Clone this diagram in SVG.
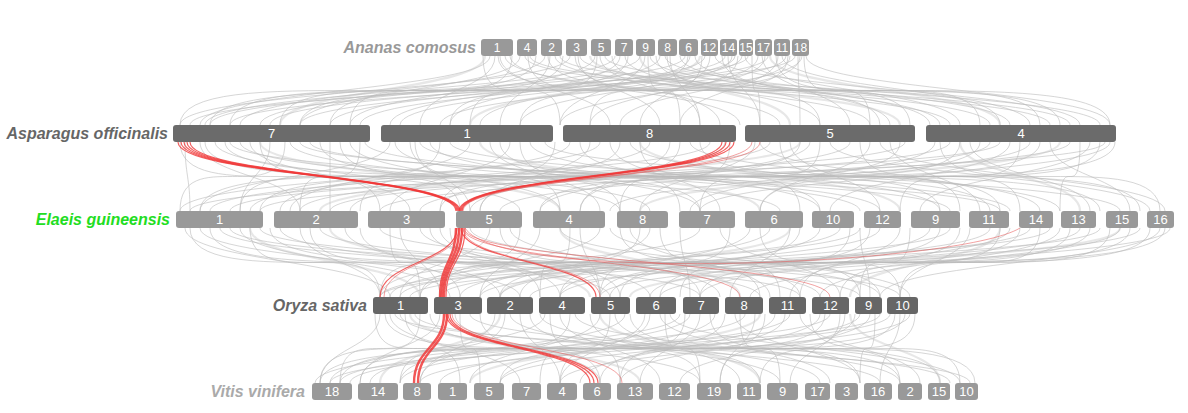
<svg xmlns="http://www.w3.org/2000/svg" width="1188" height="413" viewBox="0 0 1188 413">
<style>
.g{fill:none;stroke:#bbb;stroke-width:1;stroke-opacity:.6}
.g2{fill:none;stroke:#c4c4c4;stroke-width:2.2;stroke-opacity:.4}
.r{fill:none;stroke:#f03a3a;stroke-width:1.2;stroke-opacity:.8}
.rt{fill:none;stroke:#f03a3a;stroke-width:2.4;stroke-opacity:.85}
.rf{fill:none;stroke:#e85555;stroke-width:1;stroke-opacity:.55}
.lab{font-family:"Liberation Sans",Arial,sans-serif;font-size:16px;font-weight:bold;font-style:italic;text-anchor:end}
.n{font-family:"Liberation Sans",Arial,sans-serif;font-size:13px;fill:#fff;text-anchor:middle}
.ns{font-family:"Liberation Sans",Arial,sans-serif;font-size:12px;fill:#fff;text-anchor:middle}
.ba{fill:#999}
.bd{fill:#6b6b6b}
.bo{fill:#666}
</style>
<rect width="1188" height="413" fill="#fff"/>
<g id="connectors">
<g id="grey-links">
<path class="g" d="M490 56C490 90 200 90 200 125"/><path class="g" d="M495 56C495 90 420 90 420 125"/><path class="g" d="M500 56C500 90 610 90 610 125"/><path class="g" d="M505 56C505 90 780 90 780 125"/><path class="g" d="M520 56C520 90 300 90 300 125"/><path class="g" d="M525 56C525 90 950 90 950 125"/><path class="g" d="M530 56C530 90 1050 90 1050 125"/><path class="g" d="M545 56C545 90 240 90 240 125"/><path class="g" d="M550 56C550 90 500 90 500 125"/><path class="g" d="M555 56C555 90 870 90 870 125"/><path class="g" d="M570 56C570 90 180 90 180 125"/><path class="g" d="M575 56C575 90 660 90 660 125"/><path class="g" d="M580 56C580 90 990 90 990 125"/><path class="g" d="M595 56C595 90 350 90 350 125"/><path class="g" d="M600 56C600 90 720 90 720 125"/><path class="g" d="M605 56C605 90 1100 90 1100 125"/><path class="g" d="M620 56C620 90 450 90 450 125"/><path class="g" d="M625 56C625 90 820 90 820 125"/><path class="g" d="M640 56C640 90 260 90 260 125"/><path class="g" d="M645 56C645 90 560 90 560 125"/><path class="g" d="M650 56C650 90 940 90 940 125"/><path class="g" d="M660 56C660 90 390 90 390 125"/><path class="g" d="M665 56C665 90 1010 90 1010 125"/><path class="g" d="M670 56C670 90 700 90 700 125"/><path class="g" d="M685 56C685 90 210 90 210 125"/><path class="g" d="M690 56C690 90 480 90 480 125"/><path class="g" d="M695 56C695 90 890 90 890 125"/><path class="g" d="M705 56C705 90 330 90 330 125"/><path class="g" d="M710 56C710 90 640 90 640 125"/><path class="g" d="M715 56C715 90 1080 90 1080 125"/><path class="g" d="M725 56C725 90 270 90 270 125"/><path class="g" d="M728 56C728 90 760 90 760 125"/><path class="g" d="M732 56C732 90 520 90 520 125"/><path class="g" d="M742 56C742 90 400 90 400 125"/><path class="g" d="M745 56C745 90 960 90 960 125"/><path class="g" d="M748 56C748 90 190 90 190 125"/><path class="g" d="M758 56C758 90 590 90 590 125"/><path class="g" d="M762 56C762 90 850 90 850 125"/><path class="g" d="M768 56C768 90 300 90 300 125"/><path class="g" d="M778 56C778 90 680 90 680 125"/><path class="g" d="M782 56C782 90 1030 90 1030 125"/><path class="g" d="M786 56C786 90 440 90 440 125"/><path class="g" d="M795 56C795 90 230 90 230 125"/><path class="g" d="M798 56C798 90 800 90 800 125"/><path class="g" d="M802 56C802 90 560 90 560 125"/><path class="g" d="M806 56C806 90 1110 90 1110 125"/><path class="g" d="M510 56C510 90 740 90 740 125"/><path class="g" d="M560 56C560 90 1070 90 1070 125"/><path class="g" d="M615 56C615 90 205 90 205 125"/><path class="g" d="M680 56C680 90 930 90 930 125"/><path class="g" d="M735 56C735 90 360 90 360 125"/><path class="g" d="M790 56C790 90 620 90 620 125"/>
<path class="g" d="M483 56C483 125 560 56 560 125"/><path class="g" d="M498 56C498 125 880 56 880 125"/><path class="g" d="M512 56C512 125 350 56 350 125"/><path class="g" d="M528 56C528 125 700 56 700 125"/><path class="g" d="M548 56C548 125 1000 56 1000 125"/><path class="g" d="M563 56C563 125 280 56 280 125"/><path class="g" d="M578 56C578 125 820 56 820 125"/><path class="g" d="M597 56C597 125 470 56 470 125"/><path class="g" d="M612 56C612 125 1060 56 1060 125"/><path class="g" d="M628 56C628 125 230 56 230 125"/><path class="g" d="M648 56C648 125 680 56 680 125"/><path class="g" d="M667 56C667 125 910 56 910 125"/><path class="g" d="M688 56C688 125 330 56 330 125"/><path class="g" d="M702 56C702 125 590 56 590 125"/><path class="g" d="M722 56C722 125 1040 56 1040 125"/><path class="g" d="M738 56C738 125 450 56 450 125"/><path class="g" d="M752 56C752 125 760 56 760 125"/><path class="g" d="M765 56C765 125 210 56 210 125"/><path class="g" d="M776 56C776 125 980 56 980 125"/><path class="g" d="M788 56C788 125 520 56 520 125"/><path class="g" d="M800 56C800 125 300 56 300 125"/><path class="g" d="M804 56C804 125 870 56 870 125"/><path class="g" d="M536 56C536 125 180 56 180 125"/><path class="g" d="M656 56C656 125 1110 56 1110 125"/>
<path class="g2" d="M485 56C485 90 280 90 280 125"/><path class="g2" d="M590 56C590 90 900 90 900 125"/><path class="g2" d="M700 56C700 90 470 90 470 125"/><path class="g2" d="M770 56C770 90 1000 90 1000 125"/><path class="g2" d="M640 56C640 90 790 90 790 125"/>
<path class="g" d="M185 142C185 176 190 176 190 211"/><path class="g" d="M200 142C200 176 300 176 300 211"/><path class="g" d="M215 142C215 176 520 176 520 211"/><path class="g" d="M230 142C230 176 780 176 780 211"/><path class="g" d="M250 142C250 176 410 176 410 211"/><path class="g" d="M270 142C270 176 240 176 240 211"/><path class="g" d="M290 142C290 176 650 176 650 211"/><path class="g" d="M310 142C310 176 950 176 950 211"/><path class="g" d="M330 142C330 176 330 176 330 211"/><path class="g" d="M350 142C350 176 560 176 560 211"/><path class="g" d="M365 142C365 176 860 176 860 211"/><path class="g" d="M390 142C390 176 200 176 200 211"/><path class="g" d="M410 142C410 176 470 176 470 211"/><path class="g" d="M430 142C430 176 700 176 700 211"/><path class="g" d="M450 142C450 176 1010 176 1010 211"/><path class="g" d="M470 142C470 176 290 176 290 211"/><path class="g" d="M490 142C490 176 600 176 600 211"/><path class="g" d="M510 142C510 176 390 176 390 211"/><path class="g" d="M530 142C530 176 820 176 820 211"/><path class="g" d="M545 142C545 176 1120 176 1120 211"/><path class="g" d="M570 142C570 176 250 176 250 211"/><path class="g" d="M590 142C590 176 480 176 480 211"/><path class="g" d="M610 142C610 176 720 176 720 211"/><path class="g" d="M630 142C630 176 940 176 940 211"/><path class="g" d="M650 142C650 176 350 176 350 211"/><path class="g" d="M670 142C670 176 580 176 580 211"/><path class="g" d="M690 142C690 176 1060 176 1060 211"/><path class="g" d="M710 142C710 176 210 176 210 211"/><path class="g" d="M725 142C725 176 470 176 470 211"/><path class="g" d="M755 142C755 176 640 176 640 211"/><path class="g" d="M770 142C770 176 300 176 300 211"/><path class="g" d="M790 142C790 176 880 176 880 211"/><path class="g" d="M810 142C810 176 540 176 540 211"/><path class="g" d="M830 142C830 176 1150 176 1150 211"/><path class="g" d="M850 142C850 176 420 176 420 211"/><path class="g" d="M870 142C870 176 760 176 760 211"/><path class="g" d="M890 142C890 176 980 176 980 211"/><path class="g" d="M905 142C905 176 230 176 230 211"/><path class="g" d="M935 142C935 176 690 176 690 211"/><path class="g" d="M950 142C950 176 330 176 330 211"/><path class="g" d="M970 142C970 176 1090 176 1090 211"/><path class="g" d="M990 142C990 176 500 176 500 211"/><path class="g" d="M1010 142C1010 176 830 176 830 211"/><path class="g" d="M1030 142C1030 176 610 176 610 211"/><path class="g" d="M1050 142C1050 176 1130 176 1130 211"/><path class="g" d="M1070 142C1070 176 380 176 380 211"/><path class="g" d="M1090 142C1090 176 920 176 920 211"/><path class="g" d="M1105 142C1105 176 260 176 260 211"/><path class="g" d="M1110 142C1110 176 700 176 700 211"/><path class="g" d="M300 142C300 176 1000 176 1000 211"/><path class="g" d="M600 142C600 176 180 176 180 211"/><path class="g" d="M880 142C880 176 1165 176 1165 211"/><path class="g" d="M1000 142C1000 176 190 176 190 211"/><path class="g" d="M420 142C420 176 880 176 880 211"/><path class="g" d="M760 142C760 176 1040 176 1040 211"/><path class="g" d="M240 142C240 176 620 176 620 211"/>
<path class="g" d="M180 142C180 211 380 142 380 211"/><path class="g" d="M205 142C205 211 700 142 700 211"/><path class="g" d="M225 142C225 211 990 142 990 211"/><path class="g" d="M260 142C260 211 460 142 460 211"/><path class="g" d="M285 142C285 211 180 142 180 211"/><path class="g" d="M320 142C320 211 820 142 820 211"/><path class="g" d="M340 142C340 211 620 142 620 211"/><path class="g" d="M360 142C360 211 300 142 300 211"/><path class="g" d="M395 142C395 211 1100 142 1100 211"/><path class="g" d="M415 142C415 211 560 142 560 211"/><path class="g" d="M440 142C440 211 240 142 240 211"/><path class="g" d="M500 142C500 211 940 142 940 211"/><path class="g" d="M520 142C520 211 680 142 680 211"/><path class="g" d="M555 142C555 211 360 142 360 211"/><path class="g" d="M580 142C580 211 1000 142 1000 211"/><path class="g" d="M620 142C620 211 200 142 200 211"/><path class="g" d="M640 142C640 211 800 142 800 211"/><path class="g" d="M680 142C680 211 440 142 440 211"/><path class="g" d="M700 142C700 211 1140 142 1140 211"/><path class="g" d="M730 142C730 211 620 142 620 211"/><path class="g" d="M780 142C780 211 960 142 960 211"/><path class="g" d="M800 142C800 211 260 142 260 211"/><path class="g" d="M820 142C820 211 700 142 700 211"/><path class="g" d="M860 142C860 211 1020 142 1020 211"/><path class="g" d="M900 142C900 211 480 142 480 211"/><path class="g" d="M940 142C940 211 1160 142 1160 211"/><path class="g" d="M960 142C960 211 580 142 580 211"/><path class="g" d="M980 142C980 211 280 142 280 211"/><path class="g" d="M1020 142C1020 211 900 142 900 211"/><path class="g" d="M1040 142C1040 211 440 142 440 211"/><path class="g" d="M1080 142C1080 211 1060 142 1060 211"/><path class="g" d="M1100 142C1100 211 760 142 760 211"/><path class="g" d="M1115 142C1115 211 540 142 540 211"/>
<path class="g2" d="M260 142C260 176 560 176 560 211"/><path class="g2" d="M480 142C480 176 760 176 760 211"/><path class="g2" d="M800 142C800 176 320 176 320 211"/><path class="g2" d="M960 142C960 176 1080 176 1080 211"/><path class="g2" d="M640 142C640 176 900 176 900 211"/><path class="g2" d="M1060 142C1060 176 640 176 640 211"/>
<path class="g" d="M185 228C185 262 390 262 390 297"/><path class="g" d="M200 228C200 262 520 262 520 297"/><path class="g" d="M220 228C220 262 700 262 700 297"/><path class="g" d="M240 228C240 262 450 262 450 297"/><path class="g" d="M260 228C260 262 860 262 860 297"/><path class="g" d="M280 228C280 262 610 262 610 297"/><path class="g" d="M300 228C300 262 380 262 380 297"/><path class="g" d="M320 228C320 262 760 262 760 297"/><path class="g" d="M345 228C345 262 500 262 500 297"/><path class="g" d="M380 228C380 262 900 262 900 297"/><path class="g" d="M400 228C400 262 440 262 440 297"/><path class="g" d="M420 228C420 262 650 262 650 297"/><path class="g" d="M440 228C440 262 560 262 560 297"/><path class="g" d="M470 228C470 262 820 262 820 297"/><path class="g" d="M490 228C490 262 400 262 400 297"/><path class="g" d="M510 228C510 262 720 262 720 297"/><path class="g" d="M540 228C540 262 480 262 480 297"/><path class="g" d="M560 228C560 262 880 262 880 297"/><path class="g" d="M580 228C580 262 600 262 600 297"/><path class="g" d="M600 228C600 262 420 262 420 297"/><path class="g" d="M630 228C630 262 770 262 770 297"/><path class="g" d="M650 228C650 262 520 262 520 297"/><path class="g" d="M680 228C680 262 690 262 690 297"/><path class="g" d="M700 228C700 262 390 262 390 297"/><path class="g" d="M720 228C720 262 840 262 840 297"/><path class="g" d="M750 228C750 262 560 262 560 297"/><path class="g" d="M770 228C770 262 460 262 460 297"/><path class="g" d="M790 228C790 262 730 262 730 297"/><path class="g" d="M820 228C820 262 610 262 610 297"/><path class="g" d="M840 228C840 262 400 262 400 297"/><path class="g" d="M860 228C860 262 870 262 870 297"/><path class="g" d="M880 228C880 262 500 262 500 297"/><path class="g" d="M900 228C900 262 790 262 790 297"/><path class="g" d="M930 228C930 262 650 262 650 297"/><path class="g" d="M950 228C950 262 440 262 440 297"/><path class="g" d="M970 228C970 262 900 262 900 297"/><path class="g" d="M990 228C990 262 560 262 560 297"/><path class="g" d="M1010 228C1010 262 700 262 700 297"/><path class="g" d="M1030 228C1030 262 480 262 480 297"/><path class="g" d="M1060 228C1060 262 820 262 820 297"/><path class="g" d="M1080 228C1080 262 600 262 600 297"/><path class="g" d="M1100 228C1100 262 410 262 410 297"/><path class="g" d="M1120 228C1120 262 750 262 750 297"/><path class="g" d="M1140 228C1140 262 530 262 530 297"/><path class="g" d="M1160 228C1160 262 880 262 880 297"/><path class="g" d="M1170 228C1170 262 660 262 660 297"/><path class="g" d="M230 228C230 262 800 262 800 297"/><path class="g" d="M610 228C610 262 910 262 910 297"/><path class="g" d="M860 228C860 262 380 262 380 297"/><path class="g" d="M1050 228C1050 262 380 262 380 297"/>
<path class="g" d="M190 228C190 297 460 228 460 297"/><path class="g" d="M210 228C210 297 620 228 620 297"/><path class="g" d="M250 228C250 297 380 228 380 297"/><path class="g" d="M270 228C270 297 800 228 800 297"/><path class="g" d="M310 228C310 297 540 228 540 297"/><path class="g" d="M360 228C360 297 700 228 700 297"/><path class="g" d="M390 228C390 297 420 228 420 297"/><path class="g" d="M430 228C430 297 880 228 880 297"/><path class="g" d="M450 228C450 297 600 228 600 297"/><path class="g" d="M500 228C500 297 760 228 760 297"/><path class="g" d="M520 228C520 297 380 228 380 297"/><path class="g" d="M570 228C570 297 540 228 540 297"/><path class="g" d="M620 228C620 297 860 228 860 297"/><path class="g" d="M640 228C640 297 440 228 440 297"/><path class="g" d="M660 228C660 297 780 228 780 297"/><path class="g" d="M730 228C730 297 600 228 600 297"/><path class="g" d="M760 228C760 297 900 228 900 297"/><path class="g" d="M800 228C800 297 420 228 420 297"/><path class="g" d="M850 228C850 297 680 228 680 297"/><path class="g" d="M870 228C870 297 560 228 560 297"/><path class="g" d="M910 228C910 297 860 228 860 297"/><path class="g" d="M940 228C940 297 380 228 380 297"/><path class="g" d="M960 228C960 297 620 228 620 297"/><path class="g" d="M1000 228C1000 297 800 228 800 297"/><path class="g" d="M1020 228C1020 297 500 228 500 297"/><path class="g" d="M1040 228C1040 297 900 228 900 297"/><path class="g" d="M1070 228C1070 297 660 228 660 297"/><path class="g" d="M1090 228C1090 297 440 228 440 297"/><path class="g" d="M1110 228C1110 297 840 228 840 297"/><path class="g" d="M1130 228C1130 297 600 228 600 297"/><path class="g" d="M1150 228C1150 297 700 228 700 297"/><path class="g" d="M1165 228C1165 297 480 228 480 297"/>
<path class="g2" d="M330 228C330 262 590 262 590 297"/><path class="g2" d="M560 228C560 262 740 262 740 297"/><path class="g2" d="M790 228C790 262 500 262 500 297"/><path class="g2" d="M1000 228C1000 262 850 262 850 297"/><path class="g2" d="M250 228C250 262 420 262 420 297"/><path class="g2" d="M1120 228C1120 262 630 262 630 297"/>
<path class="g" d="M380 314C380 348 320 348 320 383"/><path class="g" d="M390 314C390 348 520 348 520 383"/><path class="g" d="M400 314C400 348 700 348 700 383"/><path class="g" d="M415 314C415 348 880 348 880 383"/><path class="g" d="M440 314C440 348 360 348 360 383"/><path class="g" d="M455 314C455 348 600 348 600 383"/><path class="g" d="M470 314C470 348 950 348 950 383"/><path class="g" d="M495 314C495 348 420 348 420 383"/><path class="g" d="M510 314C510 348 780 348 780 383"/><path class="g" d="M520 314C520 348 560 348 560 383"/><path class="g" d="M545 314C545 348 330 348 330 383"/><path class="g" d="M560 314C560 348 660 348 660 383"/><path class="g" d="M575 314C575 348 900 348 900 383"/><path class="g" d="M600 314C600 348 470 348 470 383"/><path class="g" d="M615 314C615 348 740 348 740 383"/><path class="g" d="M625 314C625 348 370 348 370 383"/><path class="g" d="M645 314C645 348 560 348 560 383"/><path class="g" d="M660 314C660 348 830 348 830 383"/><path class="g" d="M670 314C670 348 960 348 960 383"/><path class="g" d="M690 314C690 348 400 348 400 383"/><path class="g" d="M700 314C700 348 640 348 640 383"/><path class="g" d="M715 314C715 348 500 348 500 383"/><path class="g" d="M735 314C735 348 860 348 860 383"/><path class="g" d="M745 314C745 348 340 348 340 383"/><path class="g" d="M755 314C755 348 720 348 720 383"/><path class="g" d="M775 314C775 348 580 348 580 383"/><path class="g" d="M790 314C790 348 440 348 440 383"/><path class="g" d="M800 314C800 348 920 348 920 383"/><path class="g" d="M820 314C820 348 620 348 620 383"/><path class="g" d="M830 314C830 348 350 348 350 383"/><path class="g" d="M845 314C845 348 790 348 790 383"/><path class="g" d="M860 314C860 348 500 348 500 383"/><path class="g" d="M870 314C870 348 680 348 680 383"/><path class="g" d="M890 314C890 348 420 348 420 383"/><path class="g" d="M900 314C900 348 880 348 880 383"/><path class="g" d="M910 314C910 348 560 348 560 383"/><path class="g" d="M395 314C395 348 970 348 970 383"/><path class="g" d="M540 314C540 348 820 348 820 383"/><path class="g" d="M680 314C680 348 315 348 315 383"/><path class="g" d="M880 314C880 348 330 348 330 383"/>
<path class="g" d="M375 314C375 383 460 314 460 383"/><path class="g" d="M385 314C385 383 760 314 760 383"/><path class="g" d="M405 314C405 383 600 314 600 383"/><path class="g" d="M420 314C420 383 340 314 340 383"/><path class="g" d="M430 314C430 383 900 314 900 383"/><path class="g" d="M460 314C460 383 480 314 480 383"/><path class="g" d="M480 314C480 383 700 314 700 383"/><path class="g" d="M505 314C505 383 320 314 320 383"/><path class="g" d="M530 314C530 383 940 314 940 383"/><path class="g" d="M550 314C550 383 620 314 620 383"/><path class="g" d="M570 314C570 383 400 314 400 383"/><path class="g" d="M590 314C590 383 860 314 860 383"/><path class="g" d="M610 314C610 383 540 314 540 383"/><path class="g" d="M630 314C630 383 975 314 975 383"/><path class="g" d="M650 314C650 383 360 314 360 383"/><path class="g" d="M665 314C665 383 700 314 700 383"/><path class="g" d="M685 314C685 383 560 314 560 383"/><path class="g" d="M710 314C710 383 900 314 900 383"/><path class="g" d="M725 314C725 383 420 314 420 383"/><path class="g" d="M740 314C740 383 780 314 780 383"/><path class="g" d="M765 314C765 383 620 314 620 383"/><path class="g" d="M785 314C785 383 340 314 340 383"/><path class="g" d="M810 314C810 383 960 314 960 383"/><path class="g" d="M825 314C825 383 500 314 500 383"/><path class="g" d="M840 314C840 383 720 314 720 383"/><path class="g" d="M855 314C855 383 400 314 400 383"/><path class="g" d="M875 314C875 383 860 314 860 383"/><path class="g" d="M895 314C895 383 600 314 600 383"/><path class="g" d="M905 314C905 383 320 314 320 383"/><path class="g" d="M915 314C915 383 760 314 760 383"/>
<path class="g2" d="M410 314C410 348 640 348 640 383"/><path class="g2" d="M600 314C600 348 760 348 760 383"/><path class="g2" d="M760 314C760 348 470 348 470 383"/><path class="g2" d="M850 314C850 348 940 348 940 383"/><path class="g2" d="M500 314C500 348 380 348 380 383"/>
</g>
<g id="red-links">
<path class="r" d="M178 142C178 176 456 176 456 211"/><path class="r" d="M181 142C181 176 457 176 457 211"/><path class="r" d="M184 142C184 176 458 176 458 211"/><path class="r" d="M187 142C187 176 459 176 459 211"/><path class="r" d="M190 142C190 176 460 176 460 211"/>
<path class="r" d="M722 142C722 176 459 176 459 211"/><path class="r" d="M726 142C726 176 460 176 460 211"/><path class="r" d="M730 142C730 176 461 176 461 211"/><path class="r" d="M734 142C734 176 462 176 462 211"/>
<path class="rf" d="M752 142C752 176 462 176 462 211"/><path class="rf" d="M760 142C760 176 463 176 463 211"/>
<path class="r" d="M457 228C457 262 380 262 380 297"/><path class="rf" d="M459 228C459 262 384 262 384 297"/>
<path class="rt" d="M456 228C456 262 440 262 440 297"/><path class="rt" d="M459 228C459 262 442 262 442 297"/><path class="rt" d="M462 228C462 262 444 262 444 297"/><path class="r" d="M465 228C465 262 446 262 446 297"/>
<path class="r" d="M461 228C461 262 596 262 596 297"/><path class="rf" d="M463 228C463 262 600 262 600 297"/>
<path class="rf" d="M463 228C463 262 740 262 740 297"/><path class="rf" d="M464 228C464 262 830 262 830 297"/>
<path class="rf" d="M465 228C500 285 960 265 1020 228"/>
<path class="rt" d="M444 314C444 348 414 348 414 383"/><path class="rt" d="M447 314C447 348 418 348 418 383"/>
<path class="r" d="M446 314C446 348 590 348 590 383"/><path class="r" d="M448 314C448 348 594 348 594 383"/><path class="r" d="M450 314C450 348 598 348 598 383"/>
<path class="rf" d="M452 314C452 348 622 348 622 383"/>
</g>
</g>
<g id="ananas">
<text class="lab" x="476" y="53" fill="#999">Ananas comosus</text>
<g id="ac1"><rect class="ba" x="481" y="39" width="32" height="17" rx="3"/><text class="ns" x="497" y="52">1</text></g>
<g id="ac4"><rect class="ba" x="517" y="39" width="20" height="17" rx="3"/><text class="ns" x="527" y="52">4</text></g>
<g id="ac2"><rect class="ba" x="541" y="39" width="21" height="17" rx="3"/><text class="ns" x="551.5" y="52">2</text></g>
<g id="ac3"><rect class="ba" x="566" y="39" width="21" height="17" rx="3"/><text class="ns" x="576.5" y="52">3</text></g>
<g id="ac5"><rect class="ba" x="591" y="39" width="20" height="17" rx="3"/><text class="ns" x="601" y="52">5</text></g>
<g id="ac7"><rect class="ba" x="615" y="39" width="18" height="17" rx="3"/><text class="ns" x="624" y="52">7</text></g>
<g id="ac9"><rect class="ba" x="636" y="39" width="19" height="17" rx="3"/><text class="ns" x="645.5" y="52">9</text></g>
<g id="ac8"><rect class="ba" x="658" y="39" width="19" height="17" rx="3"/><text class="ns" x="667.5" y="52">8</text></g>
<g id="ac6"><rect class="ba" x="679" y="39" width="19" height="17" rx="3"/><text class="ns" x="688.5" y="52">6</text></g>
<g id="ac12"><rect class="ba" x="701" y="39" width="17" height="17" rx="3"/><text class="ns" x="709.5" y="52">12</text></g>
<g id="ac14"><rect class="ba" x="720" y="39" width="17" height="17" rx="3"/><text class="ns" x="728.5" y="52">14</text></g>
<g id="ac15"><rect class="ba" x="739" y="39" width="14" height="17" rx="3"/><text class="ns" x="746" y="52">15</text></g>
<g id="ac17"><rect class="ba" x="755" y="39" width="17" height="17" rx="3"/><text class="ns" x="763.5" y="52">17</text></g>
<g id="ac11"><rect class="ba" x="774" y="39" width="16" height="17" rx="3"/><text class="ns" x="782" y="52">11</text></g>
<g id="ac18"><rect class="ba" x="792" y="39" width="17" height="17" rx="3"/><text class="ns" x="800.5" y="52">18</text></g>
</g>
<g id="asparagus">
<text class="lab" x="168" y="139" fill="#666">Asparagus officinalis</text>
<g id="ao7"><rect class="bd" x="173" y="125" width="197" height="17" rx="3"/><text class="n" x="271.5" y="138">7</text></g>
<g id="ao1"><rect class="bd" x="381" y="125" width="172" height="17" rx="3"/><text class="n" x="467" y="138">1</text></g>
<g id="ao8"><rect class="bd" x="563" y="125" width="173" height="17" rx="3"/><text class="n" x="649.5" y="138">8</text></g>
<g id="ao5"><rect class="bd" x="745" y="125" width="170" height="17" rx="3"/><text class="n" x="830" y="138">5</text></g>
<g id="ao4"><rect class="bd" x="926" y="125" width="190" height="17" rx="3"/><text class="n" x="1021" y="138">4</text></g>
</g>
<g id="elaeis">
<text class="lab" x="170" y="225" fill="#22dd22">Elaeis guineensis</text>
<g id="eg1"><rect class="ba" x="176" y="211" width="87" height="17" rx="3"/><text class="n" x="219.5" y="224">1</text></g>
<g id="eg2"><rect class="ba" x="274" y="211" width="84" height="17" rx="3"/><text class="n" x="316" y="224">2</text></g>
<g id="eg3"><rect class="ba" x="368" y="211" width="77" height="17" rx="3"/><text class="n" x="406.5" y="224">3</text></g>
<g id="eg5"><rect class="ba" x="456" y="211" width="66" height="17" rx="3"/><text class="n" x="489" y="224">5</text></g>
<g id="eg4"><rect class="ba" x="533" y="211" width="72" height="17" rx="3"/><text class="n" x="569" y="224">4</text></g>
<g id="eg8"><rect class="ba" x="617" y="211" width="51" height="17" rx="3"/><text class="n" x="642.5" y="224">8</text></g>
<g id="eg7"><rect class="ba" x="679" y="211" width="56" height="17" rx="3"/><text class="n" x="707" y="224">7</text></g>
<g id="eg6"><rect class="ba" x="745" y="211" width="58" height="17" rx="3"/><text class="n" x="774" y="224">6</text></g>
<g id="eg10"><rect class="ba" x="812" y="211" width="42" height="17" rx="3"/><text class="n" x="833" y="224">10</text></g>
<g id="eg12"><rect class="ba" x="864" y="211" width="37" height="17" rx="3"/><text class="n" x="882.5" y="224">12</text></g>
<g id="eg9"><rect class="ba" x="911" y="211" width="49" height="17" rx="3"/><text class="n" x="935.5" y="224">9</text></g>
<g id="eg11"><rect class="ba" x="969" y="211" width="40" height="17" rx="3"/><text class="n" x="989" y="224">11</text></g>
<g id="eg14"><rect class="ba" x="1019" y="211" width="34" height="17" rx="3"/><text class="n" x="1036" y="224">14</text></g>
<g id="eg13"><rect class="ba" x="1061" y="211" width="35" height="17" rx="3"/><text class="n" x="1078.5" y="224">13</text></g>
<g id="eg15"><rect class="ba" x="1106" y="211" width="32" height="17" rx="3"/><text class="n" x="1122" y="224">15</text></g>
<g id="eg16"><rect class="ba" x="1147" y="211" width="27" height="17" rx="3"/><text class="n" x="1160.5" y="224">16</text></g>
</g>
<g id="oryza">
<text class="lab" x="367" y="311" fill="#666">Oryza sativa</text>
<g id="os1"><rect class="bo" x="373" y="297" width="55" height="17" rx="3"/><text class="n" x="400.5" y="310">1</text></g>
<g id="os3"><rect class="bo" x="434" y="297" width="48" height="17" rx="3"/><text class="n" x="458" y="310">3</text></g>
<g id="os2"><rect class="bo" x="487" y="297" width="46" height="17" rx="3"/><text class="n" x="510" y="310">2</text></g>
<g id="os4"><rect class="bo" x="539" y="297" width="46" height="17" rx="3"/><text class="n" x="562" y="310">4</text></g>
<g id="os5"><rect class="bo" x="591" y="297" width="39" height="17" rx="3"/><text class="n" x="610.5" y="310">5</text></g>
<g id="os6"><rect class="bo" x="636" y="297" width="40" height="17" rx="3"/><text class="n" x="656" y="310">6</text></g>
<g id="os7"><rect class="bo" x="683" y="297" width="36" height="17" rx="3"/><text class="n" x="701" y="310">7</text></g>
<g id="os8"><rect class="bo" x="725" y="297" width="38" height="17" rx="3"/><text class="n" x="744" y="310">8</text></g>
<g id="os11"><rect class="bo" x="769" y="297" width="37" height="17" rx="3"/><text class="n" x="787.5" y="310">11</text></g>
<g id="os12"><rect class="bo" x="812" y="297" width="37" height="17" rx="3"/><text class="n" x="830.5" y="310">12</text></g>
<g id="os9"><rect class="bo" x="855" y="297" width="27" height="17" rx="3"/><text class="n" x="868.5" y="310">9</text></g>
<g id="os10"><rect class="bo" x="887" y="297" width="31" height="17" rx="3"/><text class="n" x="902.5" y="310">10</text></g>
</g>
<g id="vitis">
<text class="lab" x="305" y="397" fill="#aaa">Vitis vinifera</text>
<g id="vv18"><rect class="ba" x="312" y="383" width="40" height="17" rx="3"/><text class="n" x="332" y="396">18</text></g>
<g id="vv14"><rect class="ba" x="358" y="383" width="40" height="17" rx="3"/><text class="n" x="378" y="396">14</text></g>
<g id="vv8"><rect class="ba" x="403" y="383" width="28" height="17" rx="3"/><text class="n" x="417" y="396">8</text></g>
<g id="vv1"><rect class="ba" x="438" y="383" width="29" height="17" rx="3"/><text class="n" x="452.5" y="396">1</text></g>
<g id="vv5"><rect class="ba" x="474" y="383" width="30" height="17" rx="3"/><text class="n" x="489" y="396">5</text></g>
<g id="vv7"><rect class="ba" x="512" y="383" width="29" height="17" rx="3"/><text class="n" x="526.5" y="396">7</text></g>
<g id="vv4"><rect class="ba" x="547" y="383" width="30" height="17" rx="3"/><text class="n" x="562" y="396">4</text></g>
<g id="vv6"><rect class="ba" x="583" y="383" width="28" height="17" rx="3"/><text class="n" x="597" y="396">6</text></g>
<g id="vv13"><rect class="ba" x="617" y="383" width="36" height="17" rx="3"/><text class="n" x="635" y="396">13</text></g>
<g id="vv12"><rect class="ba" x="659" y="383" width="31" height="17" rx="3"/><text class="n" x="674.5" y="396">12</text></g>
<g id="vv19"><rect class="ba" x="697" y="383" width="34" height="17" rx="3"/><text class="n" x="714" y="396">19</text></g>
<g id="vv11"><rect class="ba" x="737" y="383" width="24" height="17" rx="3"/><text class="n" x="749" y="396">11</text></g>
<g id="vv9"><rect class="ba" x="767" y="383" width="31" height="17" rx="3"/><text class="n" x="782.5" y="396">9</text></g>
<g id="vv17"><rect class="ba" x="805" y="383" width="25" height="17" rx="3"/><text class="n" x="817.5" y="396">17</text></g>
<g id="vv3"><rect class="ba" x="835" y="383" width="23" height="17" rx="3"/><text class="n" x="846.5" y="396">3</text></g>
<g id="vv16"><rect class="ba" x="864" y="383" width="28" height="17" rx="3"/><text class="n" x="878" y="396">16</text></g>
<g id="vv2"><rect class="ba" x="898" y="383" width="24" height="17" rx="3"/><text class="n" x="910" y="396">2</text></g>
<g id="vv15"><rect class="ba" x="928" y="383" width="22" height="17" rx="3"/><text class="n" x="939" y="396">15</text></g>
<g id="vv10"><rect class="ba" x="955" y="383" width="23" height="17" rx="3"/><text class="n" x="966.5" y="396">10</text></g>
</g>
</svg>
